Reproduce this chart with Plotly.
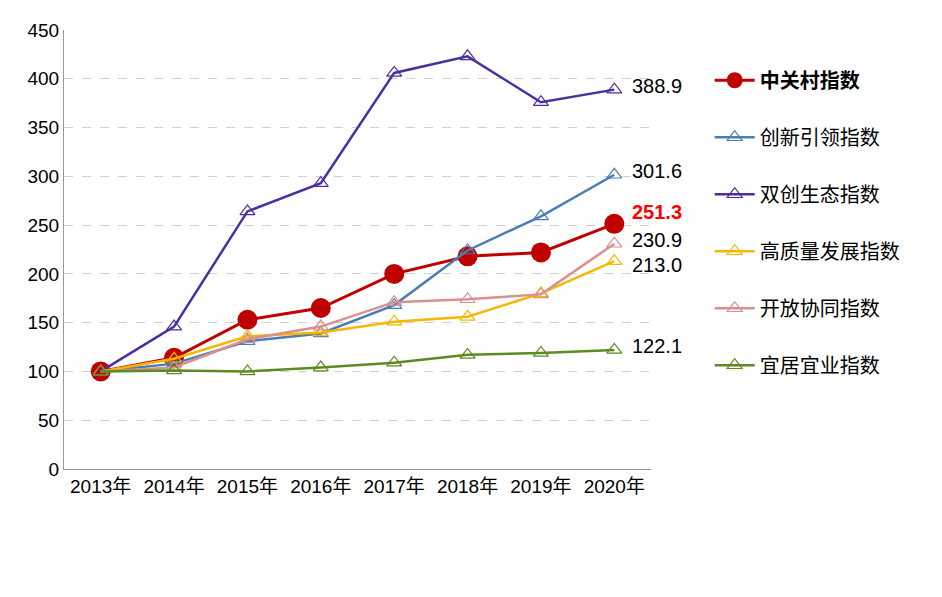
import plotly.graph_objects as go

years = ["2013年", "2014年", "2015年", "2016年", "2017年", "2018年", "2019年", "2020年"]
zgc = [100, 114, 153, 165, 200, 218, 222, 251.3]
innovation = [100, 108, 131, 139, 168, 224, 259, 301.6]
startup = [100, 146, 264, 293, 406, 423, 376, 388.9]
quality = [100, 113, 136, 140, 151, 156, 180, 213.0]
openness = [100, 104, 133, 146, 171, 174, 179, 230.9]
livable = [100, 101, 100, 104, 109, 117, 119, 122.1]

series = [
    ("创新引领指数", innovation, "#4a7eb4"),
    ("双创生态指数", startup, "#4b2fa0"),
    ("高质量发展指数", quality, "#f5b800"),
    ("开放协同指数", openness, "#d99090"),
    ("宜居宜业指数", livable, "#5b8c22"),
]

fig = go.Figure()
fig.add_scatter(
    x=years, y=zgc, mode="lines+markers", name="<b>中关村指数</b>",
    line=dict(color="#c00000", width=3),
    marker=dict(size=20, color="#c00000"), legendgroup="a",
)
for i, (name, vals, col) in enumerate(series):
    fig.add_scatter(
        x=years, y=vals, mode="lines+markers", name=name,
        line=dict(color=col, width=2.5),
        marker=dict(symbol="triangle-up-open", size=13, color=col,
                    line=dict(width=1.2)),
        legendgroup=str(i),
    )

labels = [(388.9, "388.9", "#000", False, 0), (301.6, "301.6", "#000", False, 0),
          (251.3, "251.3", "#ff0000", True, 8), (230.9, "230.9", "#000", False, 0),
          (213.0, "213.0", "#000", False, -8), (122.1, "122.1", "#000", False, 0)]
for yv, txt, col, bold, dy in labels:
    fig.add_annotation(x=7, y=yv, text=f"<b>{txt}</b>" if bold else txt,
                       xanchor="left", xshift=16, yshift=dy + 4, showarrow=False,
                       font=dict(size=20, color=col))

fig.update_layout(
    width=942, height=597,
    margin=dict(l=56, r=299, t=12, b=136),
    plot_bgcolor="white", paper_bgcolor="white",
    font=dict(family="Liberation Sans, Noto Sans CJK SC", size=18, color="#000"),
    legend=dict(x=1.1, y=0.93, yanchor="top", xanchor="left",
                font=dict(size=20), tracegroupgap=28, itemwidth=40),
    xaxis=dict(showline=True, linecolor="#999", ticks="", tickfont=dict(size=19),
               range=[-0.5, 7.5]),
    yaxis=dict(range=[0, 450], dtick=50, showgrid=True, gridcolor="#d0d0d0",
               griddash="dash", showline=True, linecolor="#999", zeroline=False,
               tickfont=dict(size=19)),
)
fig.write_html("out.html")
